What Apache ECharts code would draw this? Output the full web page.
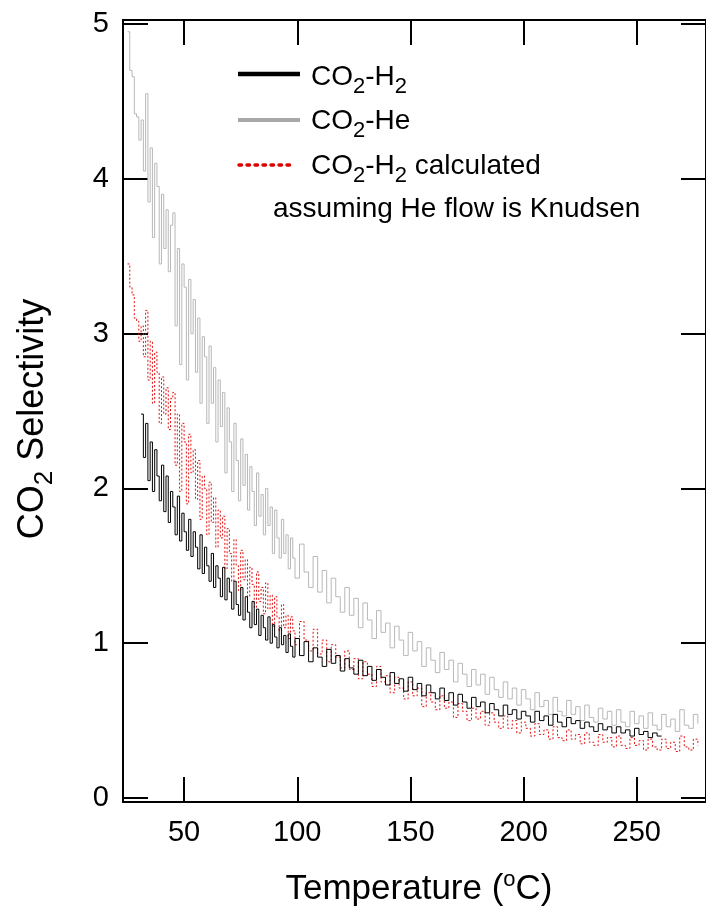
<!DOCTYPE html>
<html><head><meta charset="utf-8">
<script src="https://cdn.jsdelivr.net/npm/echarts@6/dist/echarts.min.js"></script>
<style>html,body{margin:0;padding:0;background:#fff}#c{width:706px;height:916px}</style>
</head><body><div id="c"></div>
<script>
// Temperature (°C) sample positions
const temps = [
 25,26,27,28,29,30,31,32,33,34,
 35,36,37,38,39,40,41,42,43,44,
 45,46,47,48,49,50,51,52,53,54,
 55,56,57,58,59,60,61,62,63,64,
 65,66,67,68,69,70,71,72,73,74,
 75,76,77,78,79,80,81,82,83,84,
 85,86,87,88,89,90,91,92,93,94,
 95,96,97,98,99,
 101,103,105,107,109,111,113,115,117,119,
 121,123,125,127,129,131,133,135,137,139,
 141,143,145,147,149,151,153,155,157,159,
 161,163,165,167,169,171,173,175,177,179,
 181,183,185,187,189,191,193,195,197,199,
 201,203,205,207,209,211,213,215,217,219,
 221,223,225,227,229,231,233,235,237,239,
 241,243,245,247,249,251,253,255,257,259,
 261,263,265,267,269,271,273,275,277
];
// CO2-He selectivity (grey)
const selHe = [
 4.95,4.70,4.66,4.42,4.40,4.25,4.38,4.05,4.55,3.85,
 4.20,3.62,4.10,3.95,3.45,3.90,3.55,3.80,3.40,3.70,
 3.78,3.05,3.55,2.80,3.45,3.30,2.70,3.35,3.00,3.22,
 2.75,3.10,2.55,2.98,2.85,2.42,2.92,2.55,2.78,2.30,
 2.70,2.40,2.62,2.10,2.52,2.30,1.98,2.42,2.18,1.92,
 2.32,2.02,2.22,1.86,2.14,1.98,1.76,2.10,1.82,1.96,
 1.70,2.00,1.76,1.88,1.58,1.86,1.68,1.55,1.80,1.58,
 1.70,1.48,1.68,1.55,1.42,
 1.64,1.46,1.36,1.56,1.33,1.47,1.26,1.42,1.30,1.20,
 1.36,1.18,1.29,1.10,1.26,1.15,1.03,1.21,1.07,1.13,
 0.97,1.11,1.02,0.92,1.07,0.95,1.01,0.85,0.97,0.89,
 0.81,0.94,0.83,0.89,0.75,0.87,0.80,0.72,0.83,0.73,
 0.80,0.67,0.78,0.70,0.65,0.75,0.64,0.71,0.60,0.70,
 0.64,0.57,0.68,0.59,0.63,0.54,0.65,0.56,0.53,0.63,
 0.54,0.59,0.50,0.60,0.52,0.49,0.58,0.51,0.56,0.47,
 0.57,0.49,0.46,0.56,0.48,0.53,0.45,0.55,0.47,0.44,
 0.54,0.46,0.51,0.43,0.57,0.47,0.45,0.54,0.48
];
// CO2-H2 calculated assuming He flow is Knudsen (red dotted)
const selCalc = [
 3.45,3.30,3.25,3.10,3.08,2.95,3.05,2.85,3.15,2.70,
 2.95,2.55,2.88,2.75,2.42,2.72,2.48,2.65,2.38,2.58,
 2.62,2.15,2.48,1.98,2.42,2.30,1.90,2.35,2.10,2.25,
 1.93,2.18,1.80,2.08,2.00,1.70,2.04,1.78,1.94,1.62,
 1.86,1.68,1.82,1.48,1.74,1.58,1.40,1.67,1.50,1.34,
 1.60,1.41,1.54,1.30,1.49,1.38,1.23,1.46,1.27,1.36,
 1.19,1.39,1.22,1.31,1.11,1.30,1.17,1.08,1.25,1.10,
 1.18,1.03,1.17,1.08,0.99,
 1.14,1.02,0.95,1.09,0.93,1.02,0.88,0.99,0.91,0.84,
 0.95,0.83,0.90,0.77,0.88,0.80,0.72,0.85,0.75,0.79,
 0.68,0.78,0.71,0.64,0.75,0.66,0.71,0.59,0.68,0.62,
 0.57,0.66,0.58,0.62,0.52,0.61,0.56,0.50,0.58,0.51,
 0.56,0.47,0.55,0.49,0.45,0.53,0.45,0.50,0.42,0.49,
 0.45,0.40,0.48,0.41,0.44,0.38,0.46,0.39,0.37,0.44,
 0.38,0.41,0.35,0.42,0.36,0.34,0.41,0.36,0.39,0.33,
 0.40,0.34,0.32,0.39,0.34,0.37,0.31,0.38,0.33,0.31,
 0.38,0.32,0.36,0.30,0.40,0.33,0.31,0.38,0.34
];
// CO2-H2 measured (black); null where not measured
const selH2 = [
 null,null,null,null,null,null,2.48,2.20,2.42,2.05,
 2.30,1.98,2.25,2.08,1.92,2.15,1.85,2.08,1.78,1.98,
 1.88,1.70,1.95,1.66,1.84,1.72,1.60,1.80,1.56,1.72,
 1.62,1.48,1.70,1.45,1.62,1.50,1.40,1.58,1.36,1.50,
 1.42,1.30,1.49,1.28,1.42,1.33,1.22,1.40,1.25,1.18,
 1.36,1.15,1.30,1.20,1.10,1.27,1.12,1.22,1.05,1.18,
 1.10,1.02,1.17,1.00,1.12,1.04,0.97,1.10,0.99,1.05,
 0.94,1.06,0.98,0.91,1.03,
 0.92,1.01,0.88,0.97,0.91,0.85,0.96,0.87,0.92,0.82,
 0.90,0.84,0.80,0.89,0.79,0.85,0.76,0.83,0.78,0.73,
 0.81,0.74,0.77,0.69,0.78,0.70,0.74,0.66,0.73,0.68,
 0.64,0.71,0.63,0.68,0.60,0.67,0.62,0.58,0.65,0.59,
 0.62,0.55,0.61,0.57,0.53,0.60,0.54,0.57,0.51,0.56,
 0.53,0.49,0.56,0.50,0.53,0.47,0.54,0.49,0.46,0.52,
 0.48,0.50,0.45,0.49,0.46,0.43,0.48,0.44,0.46,0.42,
 0.46,0.42,0.44,0.40,0.45,0.41,0.43,0.39,0.42,0.40,
 null,null,null,null,null,null,null,null,null
];
const xTicks = [50, 100, 150, 200, 250];
const yTicks = [0, 1, 2, 3, 4, 5];
const seriesNames = ['CO2-H2', 'CO2-He', 'CO2-H2 calculated'];

const FONT = 'Liberation Sans';
const pairs = vals => temps.map((t, i) => [t, vals[i]]);

const tickStyle = {color: '#000', width: 2};
const xBase = {
  type: 'value', min: 23, max: 280.6, splitLine: {show: false},
  axisLine: {show: true, onZero: false, lineStyle: tickStyle}
};
const yBase = {
  type: 'value', min: -0.026, max: 5.026, splitLine: {show: false},
  axisLine: {show: true, onZero: false, lineStyle: tickStyle}
};

function rich(fs, sub, lh) {
  return {
    n: {fontSize: fs, fontFamily: FONT, fill: '#000', lineHeight: lh},
    s: {fontSize: sub, fontFamily: FONT, fill: '#000', lineHeight: sub, verticalAlign: 'bottom'},
    p: {fontSize: sub, fontFamily: FONT, fill: '#000', lineHeight: sub, verticalAlign: 'top'}
  };
}
const legR = rich(28, 22, 42);

const chart = echarts.init(document.getElementById('c'), null, {renderer: 'canvas'});
chart.setOption({
  animation: false,
  backgroundColor: '#fff',
  grid: {left: 123, top: 20, width: 589, height: 782, containLabel: false},
  xAxis: [
    Object.assign({}, xBase, {
      position: 'bottom',
      axisTick: {show: true, inside: true, length: 25, lineStyle: tickStyle, customValues: xTicks},
      axisLabel: {show: true, customValues: xTicks, fontSize: 29, fontFamily: FONT, color: '#000', margin: 16}
    }),
    Object.assign({}, xBase, {
      position: 'top',
      axisTick: {show: true, inside: true, length: 25, lineStyle: tickStyle, customValues: xTicks},
      axisLabel: {show: false}
    })
  ],
  yAxis: [
    Object.assign({}, yBase, {
      position: 'left',
      axisTick: {show: true, inside: true, length: 25, lineStyle: tickStyle, customValues: yTicks},
      axisLabel: {show: true, customValues: yTicks, fontSize: 29, fontFamily: FONT, color: '#000', margin: 14}
    }),
    Object.assign({}, yBase, {
      position: 'right',
      axisTick: {show: true, inside: true, length: 25, lineStyle: tickStyle, customValues: yTicks},
      axisLabel: {show: false}
    })
  ],
  series: [
    {
      name: seriesNames[1], type: 'line', data: pairs(selHe), step: 'end',
      symbol: 'none', showSymbol: false, z: 2,
      lineStyle: {color: '#b8b8b8', width: 1}
    },
    {
      name: seriesNames[2], type: 'line', data: pairs(selCalc), step: 'end',
      symbol: 'none', showSymbol: false, z: 3,
      lineStyle: {color: '#e01010', width: 1, type: [2, 2]}
    },
    {
      name: seriesNames[0], type: 'line', data: pairs(selH2), step: 'end',
      symbol: 'none', showSymbol: false, z: 4, connectNulls: false,
      lineStyle: {color: '#000', width: 1}
    }
  ],
  graphic: {elements: [
    {type: 'line', z: 100, shape: {x1: 238, y1: 74, x2: 300, y2: 74}, style: {stroke: '#000', lineWidth: 4.5}},
    {type: 'line', z: 100, shape: {x1: 238, y1: 120, x2: 300, y2: 120}, style: {stroke: '#a8a8a8', lineWidth: 4}},
    {type: 'line', z: 100, shape: {x1: 239, y1: 165, x2: 294, y2: 165}, style: {stroke: '#e00000', lineWidth: 3.5, lineDash: [2.5, 5.5], lineCap: 'round'}},
    {type: 'text', z: 100, x: 311, y: 77, style: {text: '{n|CO}{s|2}{n|-H}{s|2}', rich: legR, verticalAlign: 'middle', align: 'left'}},
    {type: 'text', z: 100, x: 311, y: 121, style: {text: '{n|CO}{s|2}{n|-He}', rich: legR, verticalAlign: 'middle', align: 'left'}},
    {type: 'text', z: 100, x: 311, y: 166, style: {text: '{n|CO}{s|2}{n|-H}{s|2}{n| calculated}', rich: legR, verticalAlign: 'middle', align: 'left'}},
    {type: 'text', z: 100, x: 273, y: 209, style: {text: 'assuming He flow is Knudsen', fontSize: 28, fontFamily: FONT, fill: '#000', verticalAlign: 'middle', align: 'left'}},
    {type: 'text', z: 100, x: 419, y: 889, style: {text: '{n|Temperature (}{p|o}{n|C)}', rich: rich(35, 22, 40), verticalAlign: 'middle', align: 'center'}},
    {type: 'text', z: 100, x: 33, y: 419, rotation: Math.PI / 2, style: {text: '{n|CO}{s|2}{n| Selectivity}', rich: rich(36, 26, 50), verticalAlign: 'middle', align: 'center'}}
  ]}
});
</script>
</body></html>
